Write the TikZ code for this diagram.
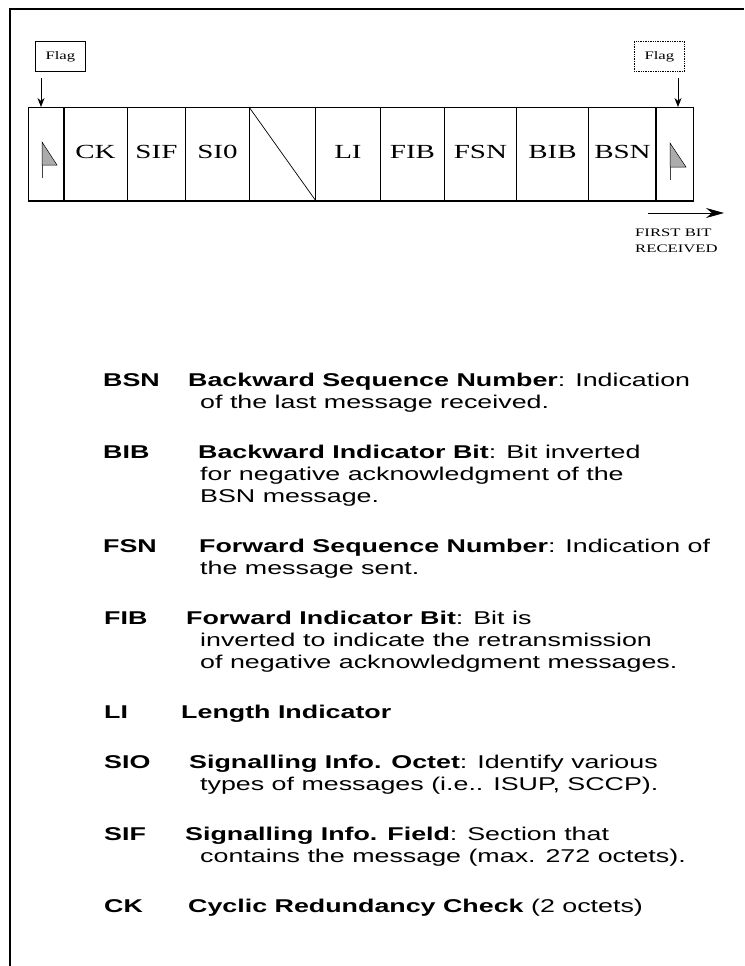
\documentclass[tikz,border=0pt]{standalone}
\usepackage{fontspec}
\setmainfont{Liberation Serif}[FakeStretch=1.45]
\setsansfont{Liberation Sans}[FakeStretch=1.45]
\usetikzlibrary{arrows.meta,calc}
\tikzset{
  cell/.style={draw, line width=0.9pt, inner sep=0pt, minimum height=93pt, anchor=north west,
    text height=13.3pt, text depth=3.5pt, font=\fontsize{20}{20}\selectfont},
  flaglabel/.style={draw, line width=0.7pt, inner sep=0pt, minimum width=50pt, minimum height=30pt,
    anchor=north west, font=\fontsize{11.5}{11.5}\selectfont},
  flagarrow/.style={line width=0.8pt, -{Stealth[length=9pt,width=7pt]}},
  small/.style={anchor=base west, inner sep=0pt, font=\fontsize{11.5}{11.5}\selectfont},
  abbr/.style={anchor=base west, inner sep=0pt, font=\sffamily\bfseries\fontsize{18.5}{18.5}\selectfont},
  desc/.style={anchor=base west, inner sep=0pt, font=\sffamily\fontsize{18.5}{18.5}\selectfont},
  thickdiv/.style={line width=2.2pt},
  pennant/.style={fill=gray!65, draw, line width=0.5pt},
  pole/.style={line width=0.7pt, draw=black!75},
}
\begin{document}
\begin{tikzpicture}[x=1pt,y=-1pt]
\useasboundingbox (0,0) rectangle (744,966);
% outer frame (left and top only)
\draw[line width=1.3pt] (10,966) -- (10,9) -- (744,9);

% packet cells
\node[cell, minimum width=35pt] (fl) at (28,107) {};
\node[cell, minimum width=64pt] (ck) at (63,107) {CK};
\node[cell, minimum width=58pt] (sif) at (127,107) {SIF};
\node[cell, minimum width=64pt] (sio) at (185,107) {SI0};
\node[cell, minimum width=66pt] (sp) at (249,107) {};
\node[cell, minimum width=65pt] (li) at (315,107) {LI};
\node[cell, minimum width=64pt] (fib) at (380,107) {FIB};
\node[cell, minimum width=72pt] (fsn) at (444,107) {FSN};
\node[cell, minimum width=72pt] (bib) at (516,107) {BIB};
\node[cell, minimum width=68pt] (bsn) at (588,107) {BSN};
\node[cell, minimum width=37pt] (fr) at (656,107) {};
\draw[thickdiv] (fl.north east) -- (fl.south east);
\draw[thickdiv] (fr.north west) -- (fr.south west);
\draw[line width=1.6pt] (fl.south west) -- (fr.south east);
\draw[line width=0.7pt] (sp.north west) -- (sp.south east);

% flag glyphs
\draw[pole] ($(fl.north west)+(14,35)$) -- ($(fl.north west)+(14,71)$);
\path[pennant] ($(fl.north west)+(14,35)$) -- ($(fl.north west)+(29,58)$) -- ($(fl.north west)+(14,58)$) -- cycle;
\draw[pole] ($(fr.north west)+(14,36)$) -- ($(fr.north west)+(14,73)$);
\path[pennant] ($(fr.north west)+(14,36)$) -- ($(fr.north west)+(30,60)$) -- ($(fr.north west)+(14,60)$) -- cycle;

% flag labels and arrows
\node[flaglabel] (flagL) at (35,41) {Flag};
\node[flaglabel, densely dotted] (flagR) at (634,41) {Flag};
\coordinate (aL) at (41,78);
\coordinate (aR) at (678,78);
\draw[flagarrow] (aL) -- (aL |- fl.north);
\draw[flagarrow] (aR) -- (aR |- fr.north);

% first bit received
\coordinate (fbA) at (648,213);
\coordinate (fbB) at (724,213);
\draw[line width=0.7pt, -{Stealth[length=18pt,width=10pt]}] (fbA) -- (fbB);
\node[small] (fbt1) at (635,236) {FIRST BIT};
\node[small] (fbt2) at (635,252) {RECEIVED};

% legend
\node[abbr] (kBSN) at (103,386) {BSN};
\node[desc] (dBSN1) at (188,386) {\textbf{Backward Sequence Number}: Indication};
\node[desc] (dBSN2) at (200,408) {of the last message received.};

\node[abbr] (kBIB) at (103,458) {BIB};
\node[desc] (dBIB1) at (198,458) {\textbf{Backward Indicator Bit}: Bit inverted};
\node[desc] (dBIB2) at (200,480) {for negative acknowledgment of the};
\node[desc] (dBIB3) at (200,502) {BSN message.};

\node[abbr] (kFSN) at (103,552) {FSN};
\node[desc] (dFSN1) at (199,552) {\textbf{Forward Sequence Number}: Indication of};
\node[desc] (dFSN2) at (200,574) {the message sent.};

\node[abbr] (kFIB) at (104,624) {FIB};
\node[desc] (dFIB1) at (186,624) {\textbf{Forward Indicator Bit}: Bit is};
\node[desc] (dFIB2) at (200,646) {inverted to indicate the retransmission};
\node[desc] (dFIB3) at (200,668) {of negative acknowledgment messages.};

\node[abbr] (kLI) at (104,718) {LI};
\node[desc] (dLI1) at (181,718) {\textbf{Length Indicator}};

\node[abbr] (kSIO) at (104,768) {SIO};
\node[desc] (dSIO1) at (189,768) {\textbf{Signalling Info. Octet}: Identify various};
\node[desc] (dSIO2) at (200,790) {types of messages (i.e.. ISUP, SCCP).};

\node[abbr] (kSIF) at (104,840) {SIF};
\node[desc] (dSIF1) at (185,840) {\textbf{Signalling Info. Field}: Section that};
\node[desc] (dSIF2) at (200,862) {contains the message (max. 272 octets).};

\node[abbr] (kCK) at (104,912) {CK};
\node[desc] (dCK1) at (188,912) {\textbf{Cyclic Redundancy Check} (2 octets)};
\end{tikzpicture}
\end{document}
